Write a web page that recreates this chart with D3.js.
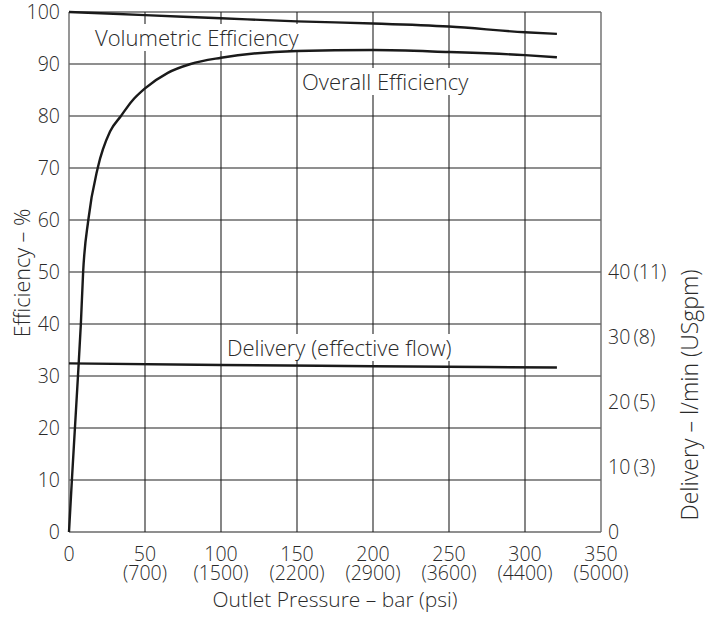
<!DOCTYPE html>
<html>
<head>
<meta charset="utf-8">
<script src="https://cdn.jsdelivr.net/npm/d3@7"></script>
<style>
  html, body { margin: 0; padding: 0; background: #fff; }
  svg text { font-family: "Open Sans", "Noto Sans", sans-serif; font-weight: 300; fill: #2a2a2a; }
</style>
</head>
<body>
<svg id="chart" width="713" height="618"></svg>
<script>
// Axis ticks
const pressureTicks = [0, 50, 100, 150, 200, 250, 300, 350];
const psiLabels = ["", "(700)", "(1500)", "(2200)", "(2900)", "(3600)", "(4400)", "(5000)"];
const efficiencyTicks = [0, 10, 20, 30, 40, 50, 60, 70, 80, 90, 100];
const deliveryTicks = [0, 10, 20, 30, 40];
const deliveryUsgpm = ["", "(3)", "(5)", "(8)", "(11)"];

// Volumetric efficiency (%) vs outlet pressure (bar)
const volPressure = [0, 50, 100, 150, 200, 250, 300, 321];
const volEfficiency = [100, 99.4, 98.8, 98.2, 97.8, 97.2, 96.1, 95.8];

// Overall efficiency (%) vs outlet pressure (bar)
const overallPressure = [0, 1.9, 3.9, 5.9, 7.8, 9.3, 12.7, 18.9, 27, 34.2, 41.2, 50, 65, 80, 100, 150, 200, 250, 300, 321];
const overallEfficiency = [0, 10, 20, 30, 40, 50, 60, 70, 77, 80, 82.8, 85.3, 88.3, 90.0, 91.2, 92.5, 92.7, 92.3, 91.7, 91.3];

// Delivery (l/min) vs outlet pressure (bar)
const delPressure = [0, 100, 200, 321];
const delFlow = [25.95, 25.7, 25.5, 25.3];

const svg = d3.select("#chart");

const x = d3.scaleLinear().domain([0, 350]).range([69, 601]);
const y = d3.scaleLinear().domain([0, 100]).range([532, 12]);
const yR = d3.scaleLinear().domain([0, 80]).range([532, 12]);

// Grid
const grid = svg.append("g");
grid.selectAll("line.h").data(efficiencyTicks).join("line")
  .attr("x1", x(0)).attr("x2", x(350))
  .attr("y1", d => y(d)).attr("y2", d => y(d))
  .attr("stroke", "#6a6a6a").attr("stroke-width", 1.4);
grid.selectAll("line.v").data(pressureTicks).join("line")
  .attr("x1", d => x(d)).attr("x2", d => x(d))
  .attr("y1", y(0)).attr("y2", y(100))
  .attr("stroke", d => (d === 0 || d === 350) ? "#6a6a6a" : "#222")
  .attr("stroke-width", d => (d === 0 || d === 350) ? 1.4 : 1.1);

// Curve labels with white backing that masks the grid
function curveLabel(text, px, baseline) {
  const g = svg.append("g");
  const t = g.append("text").attr("x", px).attr("y", baseline)
    .attr("font-size", 22).text(text);
  const b = t.node().getBBox();
  g.insert("rect", "text")
    .attr("x", b.x - 3).attr("y", b.y + 2)
    .attr("width", b.width + 6).attr("height", b.height - 3)
    .attr("fill", "#fff");
  return g;
}
curveLabel("Volumetric Efficiency", 95, 46);
curveLabel("Overall Efficiency", 302, 90);
curveLabel("Delivery (effective flow)", 227, 356);

// Curves
const lineGen = d3.line().curve(d3.curveMonotoneX);
const curves = svg.append("g").attr("fill", "none").attr("stroke", "#1a1a1a")
  .attr("stroke-width", 2.4).attr("stroke-linejoin", "round");
curves.append("path")
  .attr("d", lineGen(volPressure.map((p, i) => [x(p), y(volEfficiency[i])])));
curves.append("path")
  .attr("d", lineGen(overallPressure.map((p, i) => [x(p), y(overallEfficiency[i])])));
curves.append("path")
  .attr("d", lineGen(delPressure.map((p, i) => [x(p), yR(delFlow[i])])));

// Left axis labels
svg.append("g").selectAll("text").data(efficiencyTicks).join("text")
  .attr("x", 60).attr("y", d => y(d)).attr("dy", "0.36em")
  .attr("text-anchor", "end").attr("font-size", 19.5).text(d => d);

// Right axis labels
svg.append("g").selectAll("text").data(deliveryTicks).join("text")
  .attr("x", 608).attr("y", d => yR(d)).attr("dy", "0.35em")
  .attr("font-size", 19.5)
  .text((d, i) => deliveryUsgpm[i] ? d + "\u2009" + deliveryUsgpm[i] : d);

// Bottom axis labels: bar value with psi equivalent underneath
const bottom = svg.append("g").selectAll("text").data(pressureTicks).join("text")
  .attr("text-anchor", "middle").attr("font-size", 19.5);
bottom.append("tspan").attr("x", d => x(d)).attr("y", 561).text(d => d);
bottom.append("tspan").attr("x", d => x(d)).attr("y", 580).text((d, i) => psiLabels[i]);

// Axis titles
svg.append("text").attr("x", 335).attr("y", 600).attr("dy", "0.35em")
  .attr("text-anchor", "middle").attr("font-size", 21)
  .text("Outlet Pressure \u2013 bar (psi)");
svg.append("text").attr("transform", "translate(22,273) rotate(-90)")
  .attr("dy", "0.35em").attr("text-anchor", "middle").attr("font-size", 21.5)
  .text("Efficiency \u2013 %");
svg.append("text").attr("transform", "translate(690,395) rotate(-90)")
  .attr("dy", "0.35em").attr("text-anchor", "middle").attr("font-size", 23)
  .text("Delivery \u2013 l/min (USgpm)");
</script>
</body>
</html>
